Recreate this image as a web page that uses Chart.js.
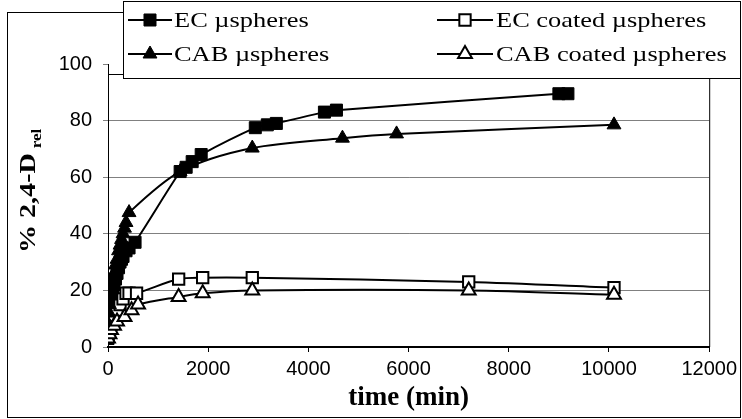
<!DOCTYPE html>
<html>
<head>
<meta charset="utf-8">
<script src="https://cdn.jsdelivr.net/npm/chart.js@4.4.0/dist/chart.umd.min.js"></script>
<style>
  html, body { margin: 0; padding: 0; background: #fff; }
  #wrap { width: 742px; height: 419px; }
</style>
</head>
<body>
<div id="wrap"><canvas id="releaseChart" width="742" height="419"></canvas></div>
<script>
// time (min) and % 2,4-D released
const ecTime = [0, 5, 10, 15, 20, 30, 45, 60, 90, 120, 150, 180, 210, 240, 270, 300, 360, 420, 540,
  1440, 1560, 1680, 1860, 2940, 3180, 3360, 4320, 4560, 9000, 9180];
const ecVal = [3, 5, 7, 9, 11, 13, 15, 18, 20, 22, 24, 26, 28, 30, 31, 32, 34, 35, 37,
  62, 63.5, 65.5, 68, 77.5, 78.5, 79, 83, 83.7, 89.5, 89.5];

const ecCoatTime = [0, 30, 60, 120, 180, 240, 300, 360, 420, 570, 1410, 1890, 2880, 7200, 10100];
const ecCoatVal = [4, 6, 8, 11, 13, 15, 17, 19, 19, 19, 24, 24.5, 24.5, 23, 21];

const cabTime = [0, 10, 20, 30, 45, 60, 90, 120, 150, 180, 210, 240, 270, 300, 330, 360, 420,
  1440, 2880, 4680, 5760, 10100];
const cabVal = [5, 8, 12, 15, 18, 20, 23, 26, 29, 31, 34, 36, 38, 40, 42, 44, 47.5,
  62, 70.3, 73.8, 75.3, 78.5];

const cabCoatTime = [0, 30, 60, 120, 180, 330, 470, 600, 1410, 1890, 2880, 7200, 10100];
const cabCoatVal = [3, 4.5, 6, 7.5, 9, 10.6, 13, 15, 17.7, 19, 20, 20, 18.5];

const xTicks = [0, 2000, 4000, 6000, 8000, 10000, 12000];
const yTicks = [0, 20, 40, 60, 80, 100];

const seriesNames = ['EC \u00b5spheres', 'EC coated \u00b5spheres', 'CAB \u00b5spheres', 'CAB coated \u00b5spheres'];

const pts = (t, v) => t.map((x, i) => ({x: x, y: v[i]}));

const mk = (label, data, style, filled, radius, order) => ({
  label: label,
  data: data,
  showLine: true,
  borderColor: '#000',
  borderWidth: 2,
  tension: 0.3,
  pointStyle: style,
  pointRadius: radius,
  pointBackgroundColor: filled ? '#000' : '#fff',
  pointBorderColor: '#000',
  pointBorderWidth: filled ? 1 : 2,
  order: order
});

const datasets = [
  mk(seriesNames[0], pts(ecTime, ecVal), 'rect', true, 8.5, 4),
  mk(seriesNames[1], pts(ecCoatTime, ecCoatVal), 'rect', false, 8, 3),
  mk(seriesNames[2], pts(cabTime, cabVal), 'triangle', true, 8, 2),
  mk(seriesNames[3], pts(cabCoatTime, cabCoatVal), 'triangle', false, 8, 1)
];

// draw a marker the same way as the dataset points
function marker(ctx, ds, x, y) {
  ctx.fillStyle = ds.pointBackgroundColor;
  ctx.strokeStyle = ds.pointBorderColor;
  ctx.lineWidth = ds.pointBorderWidth;
  Chart.helpers.drawPoint(ctx, {pointStyle: ds.pointStyle, radius: ds.pointRadius, rotation: 0, borderWidth: ds.pointBorderWidth}, x, y);
}

function stretchText(ctx, txt, x, y, sx) {
  ctx.save();
  ctx.translate(x, y);
  ctx.scale(sx, 1);
  ctx.fillText(txt, 0, 0);
  ctx.restore();
}

const extras = {
  id: 'extras',
  afterDraw(chart) {
    const ctx = chart.ctx;
    const a = chart.chartArea;
    ctx.save();
    ctx.strokeStyle = '#000';
    ctx.lineWidth = 1;
    // outer chart border
    ctx.strokeRect(7.5, 12.5, 733, 405);
    // plot area frame (top and right)
    ctx.beginPath();
    ctx.moveTo(a.left, 74.5);
    ctx.lineTo(a.right + 0.5, 74.5);
    ctx.lineTo(a.right + 0.5, a.bottom);
    ctx.stroke();

    // legend box
    ctx.fillStyle = '#fff';
    ctx.fillRect(123, 1, 618, 78);
    ctx.strokeRect(123.5, 1.5, 617, 77);
    const cols = [[128, 172, 150, 174], [437, 493, 465, 496]];
    const rows = [20, 54];
    ctx.font = '22px "Liberation Serif"';
    ctx.textBaseline = 'middle';
    datasets.forEach((ds, i) => {
      const c = cols[i % 2], y = rows[Math.floor(i / 2)];
      ctx.strokeStyle = '#000';
      ctx.lineWidth = 2;
      ctx.beginPath();
      ctx.moveTo(c[0], y);
      ctx.lineTo(c[1], y);
      ctx.stroke();
      marker(ctx, ds, c[2], y);
      ctx.fillStyle = '#000';
      stretchText(ctx, ds.label, c[3], y + 1, 1.2);
    });

    // x axis title
    ctx.fillStyle = '#000';
    ctx.font = 'bold 27px "Liberation Serif"';
    ctx.textBaseline = 'alphabetic';
    ctx.textAlign = 'center';
    ctx.fillText('time (min)', (a.left + a.right) / 2, 405);

    // y axis title with subscript
    ctx.textAlign = 'left';
    ctx.save();
    ctx.translate(35, 253);
    ctx.rotate(-Math.PI / 2);
    ctx.scale(1.22, 1);
    ctx.font = 'bold 23px "Liberation Serif"';
    const main = '% 2,4-D';
    ctx.fillText(main, 0, 0);
    const w = ctx.measureText(main).width;
    ctx.font = 'bold 14px "Liberation Serif"';
    ctx.fillText('rel', w + 4, 6);
    ctx.restore();

    ctx.restore();
  }
};

Chart.defaults.font.family = '"Liberation Sans", Arial, sans-serif';
Chart.defaults.font.size = 20;
Chart.defaults.color = '#000';

new Chart(document.getElementById('releaseChart'), {
  type: 'scatter',
  data: {datasets: datasets},
  options: {
    responsive: false,
    animation: false,
    events: [],
    layout: {padding: {left: 0, right: 32, top: 64, bottom: 0}},
    plugins: {legend: {display: false}, tooltip: {enabled: false}},
    scales: {
      x: {
        type: 'linear',
        min: 0,
        max: 12000,
        afterFit: (s) => { s.height = 72; },
        afterBuildTicks: (s) => { s.ticks = xTicks.map(v => ({value: v})); },
        ticks: {callback: (v) => String(v), padding: 5, maxRotation: 0},
        grid: {drawOnChartArea: false, tickLength: 5, tickColor: '#000', tickWidth: 1},
        border: {color: '#000', width: 2}
      },
      y: {
        min: 0,
        max: 100,
        afterFit: (s) => { s.width = 108; },
        afterBuildTicks: (s) => { s.ticks = yTicks.map(v => ({value: v})); },
        ticks: {padding: 11},
        grid: {
          color: (c) => (c.tick && (c.tick.value === 0 || c.tick.value === 100)) ? 'rgba(0,0,0,0)' : '#808080',
          tickColor: '#808080',
          tickLength: 5,
          lineWidth: 1
        },
        border: {color: '#000', width: 1}
      }
    }
  },
  plugins: [extras]
});
</script>
</body>
</html>
